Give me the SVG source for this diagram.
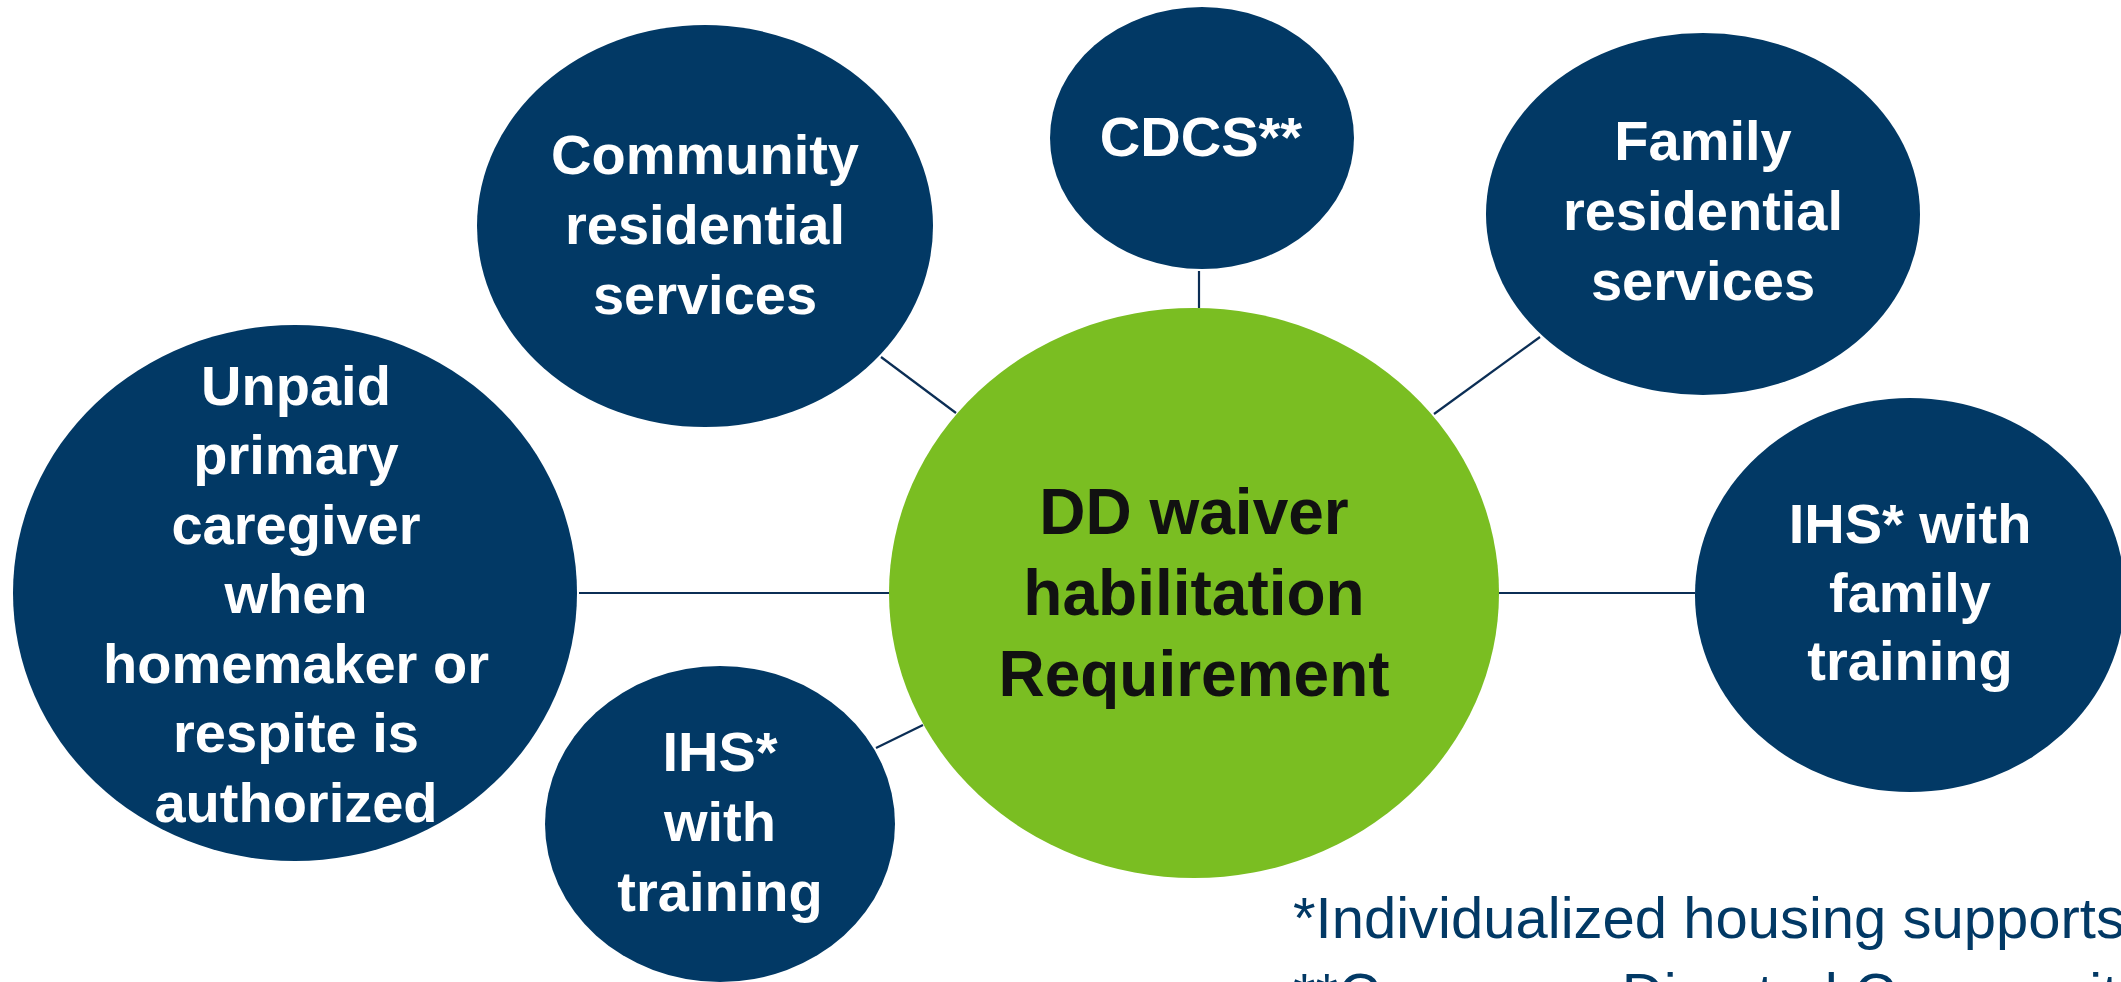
<svg xmlns="http://www.w3.org/2000/svg" width="2121" height="982" viewBox="0 0 2121 982">
  <style>
    .bubble { fill: #023965; }
    .hub { fill: #7ABE22; }
    .lbl { font-family: "Liberation Sans", Arial, sans-serif; font-weight: bold; text-anchor: middle; fill: #ffffff; font-size: 56px; }
    .hub-lbl { font-family: "Liberation Sans", Arial, sans-serif; font-weight: bold; text-anchor: middle; fill: #111111; font-size: 64px; }
    .note { font-family: "Liberation Sans", Arial, sans-serif; fill: #023965; font-size: 58px; }
    .link { stroke: #0B2E55; stroke-width: 2.2; fill: none; }
  </style>
  <rect width="2121" height="982" fill="#ffffff"/>

  <!-- spokes from the hub to each service bubble -->
  <g id="connectors">
    <line class="link" x1="579" y1="593" x2="889" y2="593"/>
    <line class="link" x1="881" y1="357" x2="956" y2="413"/>
    <line class="link" x1="1199" y1="271" x2="1199" y2="308"/>
    <line class="link" x1="1540" y1="337" x2="1434" y2="414"/>
    <line class="link" x1="1499" y1="593" x2="1695" y2="593"/>
    <line class="link" x1="876" y1="748" x2="923" y2="725"/>
  </g>

  <g id="hub">
    <ellipse class="hub" cx="1194" cy="593" rx="305" ry="285"/>
    <text class="hub-lbl" x="1194" y="534">DD waiver</text>
    <text class="hub-lbl" x="1194" y="615">habilitation</text>
    <text class="hub-lbl" x="1194" y="696">Requirement</text>
  </g>

  <g id="unpaid-caregiver">
    <ellipse class="bubble" cx="295" cy="593" rx="282" ry="268"/>
    <text class="lbl" x="296" y="405">Unpaid</text>
    <text class="lbl" x="296" y="474">primary</text>
    <text class="lbl" x="296" y="544">caregiver</text>
    <text class="lbl" x="296" y="613">when</text>
    <text class="lbl" x="296" y="683">homemaker or</text>
    <text class="lbl" x="296" y="752">respite is</text>
    <text class="lbl" x="296" y="822">authorized</text>
  </g>

  <g id="community-residential">
    <ellipse class="bubble" cx="705" cy="226" rx="228" ry="201"/>
    <text class="lbl" x="705" y="174">Community</text>
    <text class="lbl" x="705" y="244">residential</text>
    <text class="lbl" x="705" y="314">services</text>
  </g>

  <g id="cdcs">
    <ellipse class="bubble" cx="1202" cy="138" rx="152" ry="131"/>
    <text class="lbl" x="1201" y="156">CDCS**</text>
  </g>

  <g id="family-residential">
    <ellipse class="bubble" cx="1703" cy="214" rx="217" ry="181"/>
    <text class="lbl" x="1703" y="160">Family</text>
    <text class="lbl" x="1703" y="230">residential</text>
    <text class="lbl" x="1703" y="300">services</text>
  </g>

  <g id="ihs-family-training">
    <ellipse class="bubble" cx="1910" cy="595" rx="215" ry="197"/>
    <text class="lbl" x="1910" y="543">IHS* with</text>
    <text class="lbl" x="1910" y="612">family</text>
    <text class="lbl" x="1910" y="680">training</text>
  </g>

  <g id="ihs-training">
    <ellipse class="bubble" cx="720" cy="824" rx="175" ry="158"/>
    <text class="lbl" x="720" y="771">IHS*</text>
    <text class="lbl" x="720" y="841">with</text>
    <text class="lbl" x="720" y="911">training</text>
  </g>

  <g id="footnotes">
    <text class="note" x="1293" y="938">*Individualized housing supports</text>
    <text class="note" x="1293" y="1014">**Consumer Directed Community Supports</text>
  </g>
</svg>
